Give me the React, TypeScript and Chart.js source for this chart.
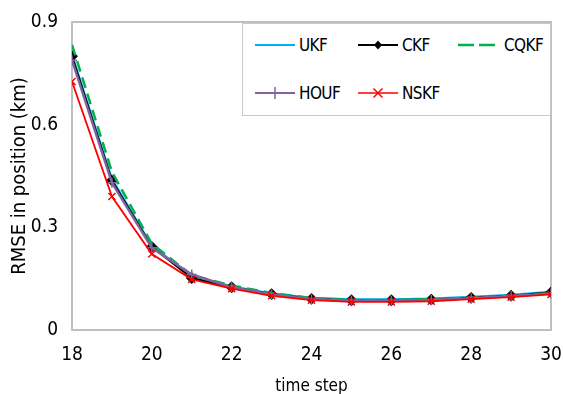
import React, { useEffect, useRef } from "react";
import { Chart, registerables } from "chart.js";

Chart.register(...registerables);

const timeSteps = [18, 19, 20, 21, 22, 23, 24, 25, 26, 27, 28, 29, 30];
const ukf = [0.805, 0.442, 0.246, 0.158, 0.128, 0.107, 0.094, 0.09, 0.09, 0.092, 0.097, 0.103, 0.112];
const ckf = [0.8, 0.437, 0.243, 0.152, 0.125, 0.105, 0.091, 0.087, 0.087, 0.089, 0.094, 0.1, 0.11];
const cqkf = [0.833, 0.462, 0.252, 0.16, 0.13, 0.108, 0.093, 0.088, 0.088, 0.09, 0.095, 0.1, 0.108];
const houf = [0.788, 0.43, 0.24, 0.162, 0.125, 0.104, 0.09, 0.086, 0.086, 0.088, 0.093, 0.099, 0.107];
const nskf = [0.726, 0.39, 0.222, 0.148, 0.121, 0.1, 0.087, 0.082, 0.082, 0.084, 0.09, 0.096, 0.104];
const yTicks = [0, 0.3, 0.6, 0.9];
const xTicks = [18, 20, 22, 24, 26, 28, 30];

const FONT = "'Liberation Sans Narrow', 'DejaVu Sans Condensed', sans-serif";

const toPts = (vals: number[]) => vals.map((v, i) => ({ x: timeSteps[i], y: v }));

const boxPlugin = {
  id: "plotBox",
  beforeDatasetsDraw(chart: any) {
    const { ctx, chartArea } = chart;
    ctx.save();
    ctx.strokeStyle = "#bfbfbf";
    ctx.lineWidth = 2;
    ctx.strokeRect(chartArea.left, chartArea.top, chartArea.right - chartArea.left, chartArea.bottom - chartArea.top);
    ctx.restore();
  },
};

function Sample({ kind }: { kind: string }) {
  const w = 40;
  const h = 14;
  const cy = 7;
  if (kind === "UKF") return <svg width={w} height={h}><line x1={0} y1={cy} x2={w} y2={cy} stroke="#00b0f0" strokeWidth={2} /></svg>;
  if (kind === "CKF")
    return (
      <svg width={w} height={h}>
        <line x1={0} y1={cy} x2={w} y2={cy} stroke="#000" strokeWidth={2} />
        <polygon points={`${w / 2},${cy - 4.5} ${w / 2 + 4},${cy} ${w / 2},${cy + 4.5} ${w / 2 - 4},${cy}`} fill="#000" />
      </svg>
    );
  if (kind === "CQKF")
    return <svg width={w} height={h}><line x1={0} y1={cy} x2={w} y2={cy} stroke="#00b050" strokeWidth={2.5} strokeDasharray="16 5" /></svg>;
  if (kind === "HOUF")
    return (
      <svg width={w} height={h}>
        <line x1={0} y1={cy} x2={w} y2={cy} stroke="#8064a2" strokeWidth={2} />
        <line x1={w / 2} y1={cy - 6} x2={w / 2} y2={cy + 6} stroke="#8064a2" strokeWidth={1.5} />
      </svg>
    );
  return (
    <svg width={w} height={h}>
      <line x1={0} y1={cy} x2={w} y2={cy} stroke="#ff0000" strokeWidth={1.5} />
      <line x1={w / 2 - 4.5} y1={cy - 4.5} x2={w / 2 + 4.5} y2={cy + 4.5} stroke="#ff0000" strokeWidth={1.5} />
      <line x1={w / 2 - 4.5} y1={cy + 4.5} x2={w / 2 + 4.5} y2={cy - 4.5} stroke="#ff0000" strokeWidth={1.5} />
    </svg>
  );
}

const legendItems = [
  { name: "UKF", sx: 255, tx: 299, y: 45 },
  { name: "CKF", sx: 358, tx: 402, y: 45 },
  { name: "CQKF", sx: 458, tx: 504, y: 45 },
  { name: "HOUF", sx: 255, tx: 299, y: 93 },
  { name: "NSKF", sx: 358, tx: 402, y: 93 },
];

export default function App() {
  const ref = useRef<HTMLCanvasElement>(null);
  useEffect(() => {
    if (!ref.current) return;
    const chart = new Chart(ref.current, {
      type: "line",
      data: {
        datasets: [
          { label: "UKF", data: toPts(ukf), borderColor: "#00b0f0", backgroundColor: "#00b0f0", borderWidth: 2, pointRadius: 0, order: 4 },
          { label: "CKF", data: toPts(ckf), borderColor: "#000000", backgroundColor: "#000000", borderWidth: 2, pointStyle: "rectRot", pointRadius: 4.5, order: 3 },
          { label: "CQKF", data: toPts(cqkf), borderColor: "#00b050", backgroundColor: "#00b050", borderWidth: 2.5, borderDash: [11, 6], pointRadius: 0, order: 2 },
          { label: "HOUF", data: toPts(houf), borderColor: "#8064a2", backgroundColor: "#8064a2", borderWidth: 2.5, pointStyle: "cross", pointRadius: 5, pointBorderWidth: 1.5, order: 1 },
          { label: "NSKF", data: toPts(nskf), borderColor: "#ff0000", backgroundColor: "#ff0000", borderWidth: 1.8, pointStyle: "crossRot", pointRadius: 5, pointBorderWidth: 1.5, order: 0 },
        ],
      },
      options: {
        responsive: false,
        animation: false,
        layout: { padding: { left: 0, top: 22, right: 12, bottom: 0 } },
        plugins: { legend: { display: false }, tooltip: { enabled: false } },
        scales: {
          x: {
            type: "linear",
            min: 18,
            max: 30,
            afterFit: (s: any) => { s.height = 70; s.paddingLeft = 0; s.paddingRight = 0; },
            afterBuildTicks: (s: any) => { s.ticks = xTicks.map((v) => ({ value: v })); },
            grid: { display: false, drawTicks: false },
            border: { display: false },
            ticks: { padding: 14, color: "#000", font: { family: FONT, size: 19 }, maxRotation: 0, autoSkip: false },
            title: { display: true, text: "time step", color: "#000", font: { family: FONT, size: 17 }, padding: { top: 0, bottom: 3 } },
          },
          y: {
            min: 0,
            max: 0.9,
            afterFit: (s: any) => { s.width = 72; s.paddingTop = 0; s.paddingBottom = 0; },
            afterBuildTicks: (s: any) => { s.ticks = yTicks.map((v) => ({ value: v })); },
            grid: { display: false, drawTicks: false },
            border: { display: false },
            ticks: { padding: 14, color: "#000", font: { family: FONT, size: 19 }, callback: (v: any) => String(v) },
            title: { display: true, text: "RMSE in position (km)", color: "#000", font: { family: FONT, size: 20 }, padding: { top: 8, bottom: 0 } },
          },
        },
      },
      plugins: [boxPlugin],
    } as any);
    return () => chart.destroy();
  }, []);

  return (
    <div style={{ position: "absolute", left: 0, top: 0, width: 563, height: 394, overflow: "hidden", background: "#fff" }}>
      <canvas ref={ref} width={563} height={400} style={{ display: "block" }} />
      <div style={{ position: "absolute", left: 242, top: 23, width: 309, height: 93, border: "1.5px solid #c8c8c8", background: "#fff", boxSizing: "border-box" }} />
      {legendItems.map((it) => (
        <React.Fragment key={it.name}>
          <div style={{ position: "absolute", left: it.sx, top: it.y - 7, width: 40, height: 14, lineHeight: 0 }}>
            <Sample kind={it.name} />
          </div>
          <div style={{ position: "absolute", left: it.tx, top: it.y - 11, height: 22, lineHeight: "22px", fontFamily: FONT, fontSize: 17, letterSpacing: -0.6, color: "#000", whiteSpace: "nowrap" }}>
            {it.name}
          </div>
        </React.Fragment>
      ))}
    </div>
  );
}
